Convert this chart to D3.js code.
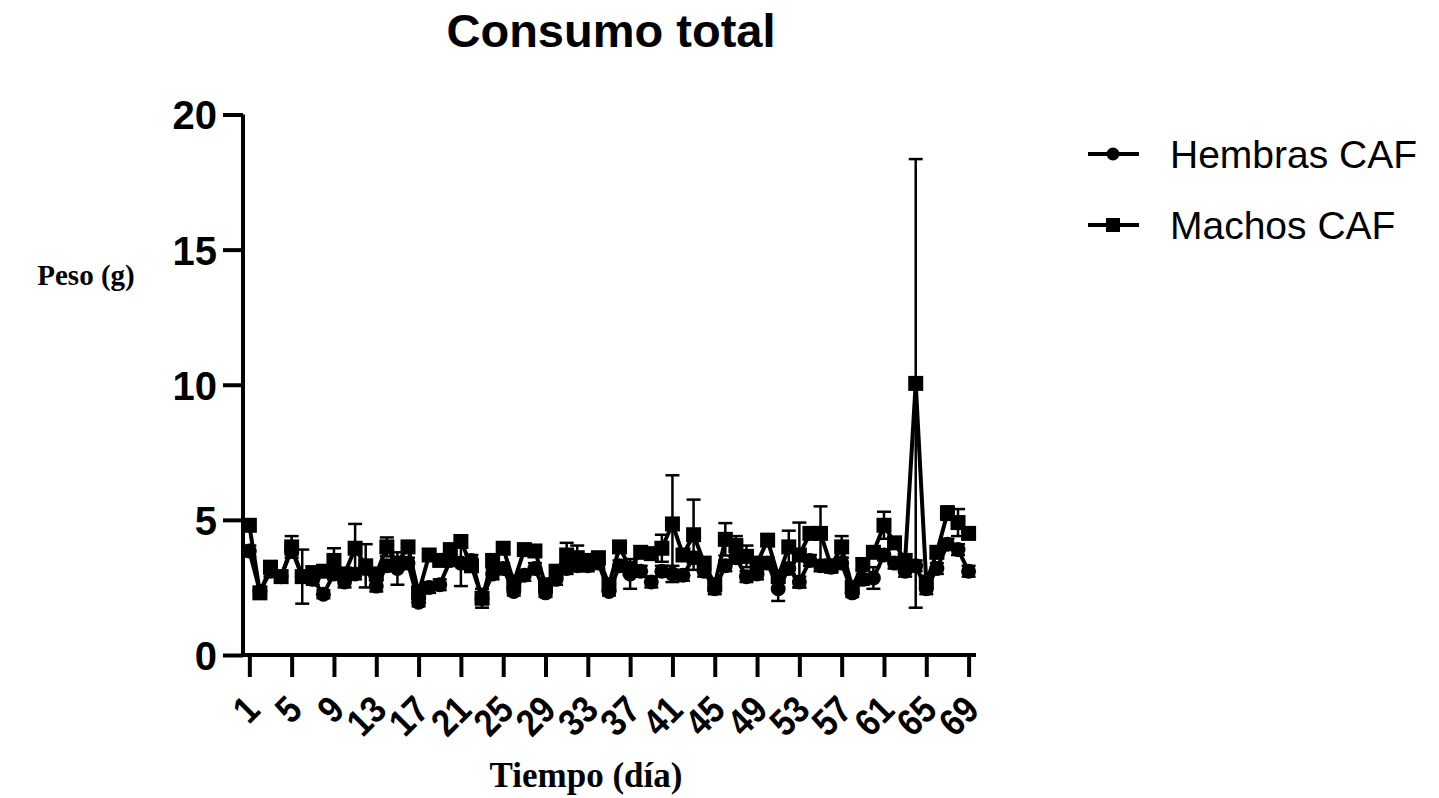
<!DOCTYPE html>
<html>
<head>
<meta charset="utf-8">
<script src="https://cdn.jsdelivr.net/npm/d3@7"></script>
<style>
  body { margin: 0; background: #fff; }
  text { fill: #000; }
</style>
</head>
<body>
<svg id="chart" width="1439" height="798"></svg>
<script>
// days 1..69
var days = d3.range(1, 70);

var hembras = [3.85, 2.35, 3.1, 2.9, 3.9, 2.9, 2.8, 2.25, 3.0, 2.7,
  3.0, 3.2, 2.55, 3.3, 3.2, 3.4, 1.95, 2.5, 2.6, 3.5,
  3.4, 3.5, 2.1, 3.0, 3.2, 2.35, 2.95, 3.2, 2.3, 2.8,
  3.2, 3.3, 3.3, 3.4, 2.35, 3.3, 3.0, 3.1, 2.7, 3.1,
  3.0, 2.95, 3.6, 3.1, 2.45, 3.3, 3.6, 2.9, 3.0, 3.4,
  2.45, 3.2, 2.7, 3.5, 3.3, 3.25, 3.4, 2.3, 2.8, 2.85,
  3.7, 3.4, 3.1, 3.3, 2.45, 3.2, 4.1, 3.9, 3.1];

var hembrasSd = [0.2, 0.15, 0.2, 0.2, 0.2, 0.2, 0.2, 0.15, 0.2, 0.2,
  0.2, 0.2, 0.2, 0.2, 0.6, 0.2, 0.15, 0.2, 0.2, 0.2,
  0.85, 0.2, 0.2, 0.2, 0.2, 0.15, 0.2, 0.2, 0.15, 0.2,
  0.2, 0.2, 0.2, 0.2, 0.15, 0.2, 0.55, 0.2, 0.2, 0.2,
  0.3, 0.2, 0.2, 0.2, 0.2, 0.2, 0.2, 0.2, 0.2, 0.2,
  0.45, 0.2, 0.2, 0.2, 0.2, 0.2, 0.2, 0.15, 0.2, 0.4,
  0.2, 0.2, 0.2, 0.2, 0.2, 0.2, 0.2, 0.2, 0.2];

var machos = [4.8, 2.3, 3.25, 2.9, 4.0, 2.9, 3.05, 3.1, 3.5, 3.0,
  3.95, 3.3, 3.0, 4.0, 3.4, 4.0, 2.3, 3.7, 3.5, 3.9,
  4.2, 3.3, 2.1, 3.5, 3.95, 2.7, 3.9, 3.85, 2.6, 3.1,
  3.7, 3.6, 3.5, 3.6, 2.6, 4.0, 3.2, 3.8, 3.75, 3.95,
  4.85, 3.7, 4.45, 3.4, 2.6, 4.28, 4.05, 3.65, 3.4, 4.25,
  2.9, 4.0, 3.7, 4.5, 4.5, 3.3, 4.0, 2.5, 3.35, 3.8,
  4.8, 4.15, 3.5, 10.05, 2.7, 3.8, 5.25, 4.9, 4.5];

var machosSd = [0.1, 0.2, 0.2, 0.2, 0.4, 1.0, 0.2, 0.2, 0.45, 0.2,
  0.9, 0.8, 0.2, 0.35, 0.2, 0.2, 0.2, 0.2, 0.2, 0.2,
  0.2, 0.2, 0.35, 0.2, 0.2, 0.2, 0.2, 0.2, 0.2, 0.2,
  0.45, 0.45, 0.2, 0.2, 0.2, 0.2, 0.2, 0.2, 0.2, 0.5,
  1.8, 0.2, 1.3, 0.2, 0.2, 0.6, 0.35, 0.4, 0.2, 0.2,
  0.2, 0.6, 1.2, 0.2, 1.0, 0.2, 0.4, 0.2, 0.2, 0.2,
  0.5, 0.2, 0.2, 8.3, 0.2, 0.2, 0.25, 0.5, 0.2];

var yTicks = [0, 5, 10, 15, 20];
var xTicks = d3.range(1, 70, 4);

var svg = d3.select("#chart");

var x = d3.scaleLinear().domain([0.4, 69.7]).range([243, 976]);
var y = d3.scaleLinear().domain([0, 20]).range([655, 114.5]);

var fontSans = "'Liberation Sans', Arial, sans-serif";
var fontSerif = "'Liberation Serif', 'Times New Roman', serif";

// title
svg.append("text")
  .attr("x", 611)
  .attr("y", 47)
  .attr("text-anchor", "middle")
  .style("font-family", fontSans)
  .style("font-weight", "bold")
  .style("font-size", "47px")
  .text("Consumo total");

// y axis
var yAxis = svg.append("g")
  .attr("transform", "translate(243,0)")
  .call(d3.axisLeft(y).tickValues(yTicks).tickSize(20).tickPadding(6).tickFormat(d3.format("d")));
yAxis.select(".domain").attr("d", "M0," + y(20) + "V" + (y(0) + 2));
yAxis.selectAll("path, line").attr("stroke", "#000").attr("stroke-width", 4);
yAxis.selectAll("text")
  .attr("dy", "0.36em")
  .style("font-family", fontSans)
  .style("font-weight", "bold")
  .style("font-size", "40px");

// x axis
var xAxis = svg.append("g")
  .attr("transform", "translate(0,655)")
  .call(d3.axisBottom(x).tickValues(xTicks).tickSize(22).tickFormat(d3.format("d")));
xAxis.select(".domain").attr("d", "M241,0H976");
xAxis.selectAll("path, line").attr("stroke", "#000").attr("stroke-width", 4);
xAxis.selectAll("text")
  .attr("y", 0)
  .attr("dy", 0)
  .attr("text-anchor", "end")
  .attr("transform", "translate(12,57) rotate(-45) scale(0.88,1)")
  .style("font-family", fontSans)
  .style("font-weight", "bold")
  .style("font-size", "38px");

// axis titles
svg.append("text")
  .attr("x", 86)
  .attr("y", 285)
  .attr("text-anchor", "middle")
  .style("font-family", fontSerif)
  .style("font-weight", "bold")
  .style("font-size", "29px")
  .text("Peso (g)");

svg.append("text")
  .attr("x", 586)
  .attr("y", 787)
  .attr("text-anchor", "middle")
  .style("font-family", fontSerif)
  .style("font-weight", "bold")
  .style("font-size", "35px")
  .text("Tiempo (día)");

var series = [
  { name: "Hembras CAF", values: hembras, sd: hembrasSd, shape: "circle" },
  { name: "Machos CAF", values: machos, sd: machosSd, shape: "square" }
];

var line = d3.line()
  .x(function (d) { return x(d.day); })
  .y(function (d) { return y(d.v); });

series.forEach(function (s) {
  var pts = days.map(function (d, i) {
    return { day: d, v: s.values[i], sd: s.sd[i] };
  });
  var g = svg.append("g");

  // error bars
  var eb = g.append("g").attr("stroke", "#000").attr("stroke-width", 2.5);
  pts.forEach(function (p) {
    eb.append("line")
      .attr("x1", x(p.day)).attr("x2", x(p.day))
      .attr("y1", y(p.v - p.sd)).attr("y2", y(p.v + p.sd));
    [p.v - p.sd, p.v + p.sd].forEach(function (e) {
      eb.append("line")
        .attr("x1", x(p.day) - 7).attr("x2", x(p.day) + 7)
        .attr("y1", y(e)).attr("y2", y(e));
    });
  });

  g.append("path")
    .datum(pts)
    .attr("fill", "none")
    .attr("stroke", "#000")
    .attr("stroke-width", 4)
    .attr("stroke-linejoin", "round")
    .attr("d", line);

  if (s.shape === "circle") {
    g.selectAll("circle").data(pts).enter().append("circle")
      .attr("cx", function (d) { return x(d.day); })
      .attr("cy", function (d) { return y(d.v); })
      .attr("r", 7.5)
      .attr("fill", "#000");
  } else {
    g.selectAll("rect").data(pts).enter().append("rect")
      .attr("x", function (d) { return x(d.day) - 7.5; })
      .attr("y", function (d) { return y(d.v) - 7.5; })
      .attr("width", 15)
      .attr("height", 15)
      .attr("fill", "#000");
  }
});

// legend
var legend = svg.append("g");
series.forEach(function (s, i) {
  var ly = 154 + i * 71;
  legend.append("line")
    .attr("x1", 1088).attr("x2", 1139)
    .attr("y1", ly).attr("y2", ly)
    .attr("stroke", "#000").attr("stroke-width", 4);
  if (s.shape === "circle") {
    legend.append("circle").attr("cx", 1113).attr("cy", ly).attr("r", 6.5).attr("fill", "#000");
  } else {
    legend.append("rect").attr("x", 1106).attr("y", ly - 7).attr("width", 14).attr("height", 14).attr("fill", "#000");
  }
  legend.append("text")
    .attr("x", 1170)
    .attr("y", ly + 14)
    .style("font-family", fontSans)
    .style("font-size", "39px")
    .text(s.name);
});
</script>
</body>
</html>
